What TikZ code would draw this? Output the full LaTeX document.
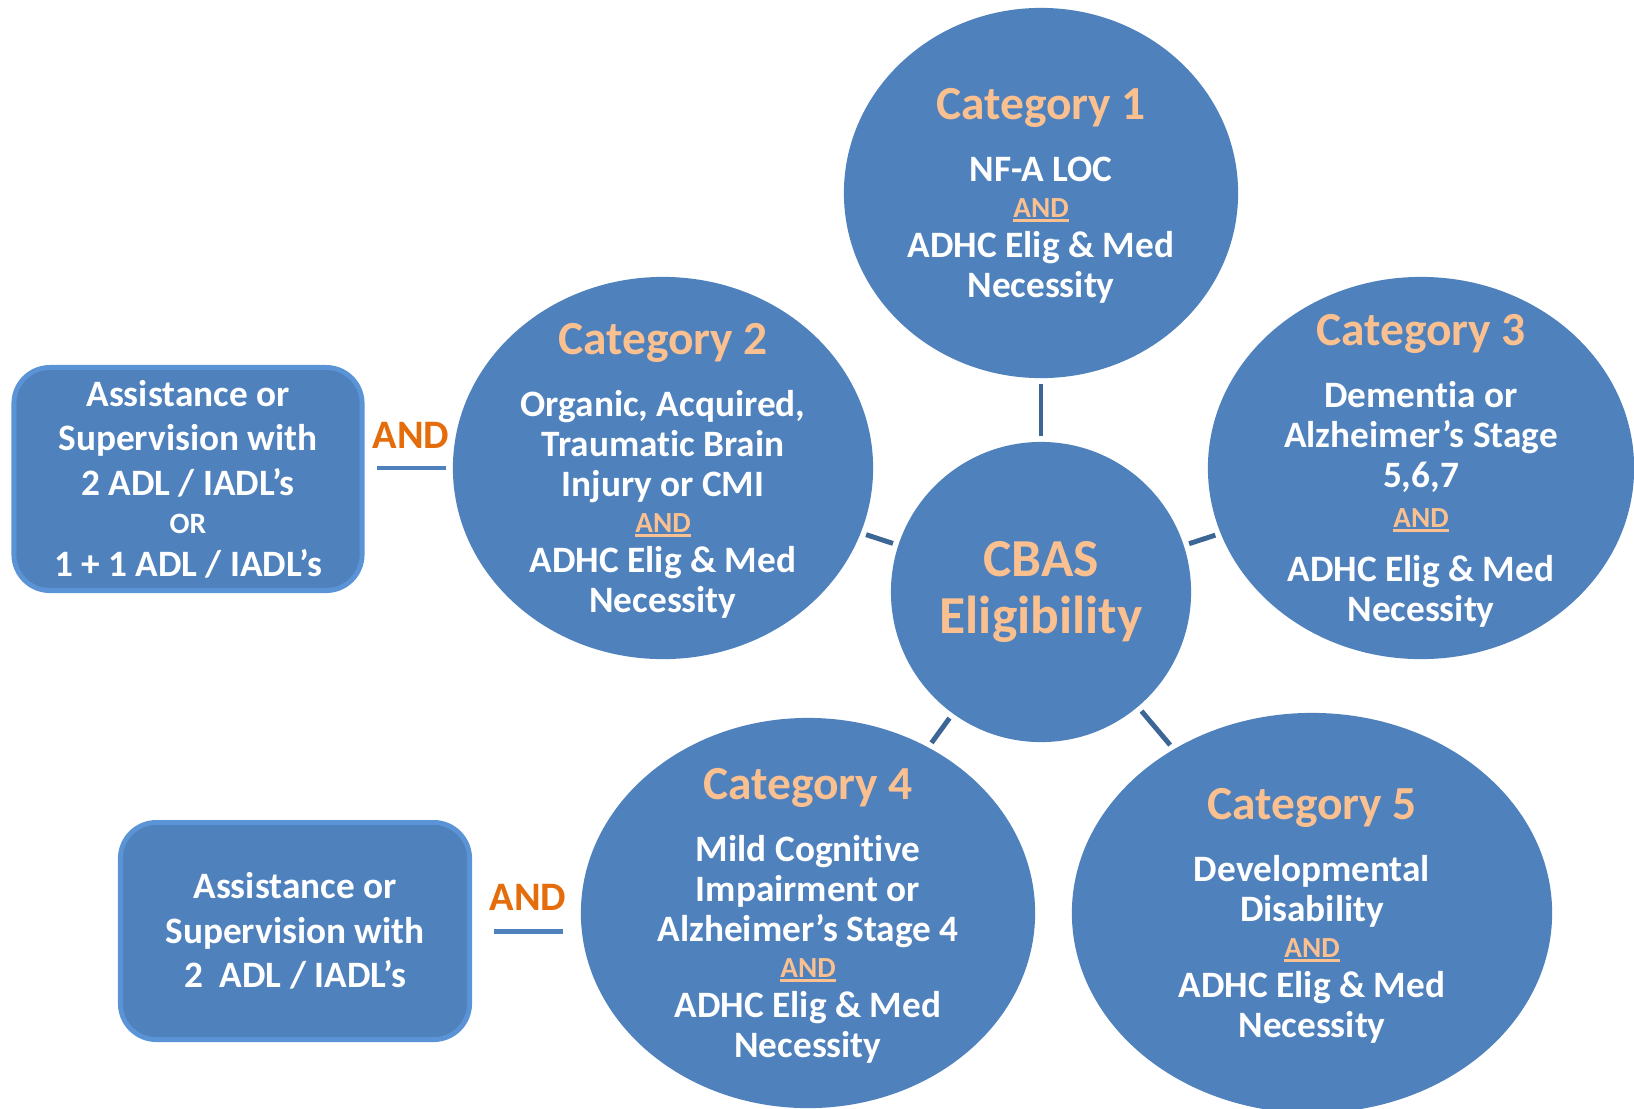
\documentclass[tikz,border=0pt]{standalone}
\usepackage{fontspec}
\setmainfont{Carlito}[Ligatures={TeX,CommonOff}]
\usepackage{tikz}
\usepackage{xcolor}
\usetikzlibrary{shapes.geometric}

\definecolor{blobblue}{HTML}{4F81BD}
\definecolor{rimblue}{HTML}{5B93D7}
\definecolor{linkblue}{HTML}{3C6695}
\definecolor{peach}{HTML}{FAC090}
\definecolor{andorange}{HTML}{E46C0A}

\newcommand{\cattitle}[1]{{\color{peach}\fontsize{13.5}{15}\selectfont #1}}
\newcommand{\andsmall}[1]{{\color{peach}\fontsize{8.3}{9}\selectfont\setbox0\hbox{#1}\rlap{\rule[-1.3pt]{\wd0}{0.85pt}}\box0}}

\begin{document}
\begin{tikzpicture}[x=0.01cm, y=-0.01cm,
        blob/.style={ellipse, fill=blobblue, inner sep=0pt},
        blobtext/.style={align=center, text=white, yshift=-0.03cm, font=\bfseries\fontsize{10.6}{11.4}\selectfont},
        reqbox/.style={rectangle, rounded corners=0.36cm, fill=blobblue, draw=rimblue, line width=1.4pt,
            align=center, text=white, font=\bfseries\fontsize{10.6}{12.7}\selectfont},
        link/.style={draw=linkblue, line width=1.4pt, shorten <=0.05cm, shorten >=0.05cm},
        andlabel/.style={text=andorange, font=\bfseries\fontsize{11.5}{13}\selectfont, inner sep=0pt},
        andbar/.style={draw=blobblue, line width=1.4pt, shorten <=0.05cm, shorten >=0.04cm}]
                \useasboundingbox (0,0) rectangle (1634,1108);
                \node[blob, minimum width=3.94cm, minimum height=3.70cm] (cat1) at (1041,193) {};
                \node[blob, minimum size=3cm] (cbas) at (1041,592) {};
                \node[blob, minimum width=4.20cm, minimum height=3.82cm] (cat2) at (663,468) {};
                \node[blob, minimum width=4.26cm, minimum height=3.82cm] (cat3) at (1421,468) {};
                \node[blob, minimum width=4.54cm, minimum height=3.90cm] (cat4) at (808,913) {};
                \node[blob, minimum width=4.80cm, minimum height=4.00cm] (cat5) at (1312,913) {};
                \draw[link] (cat1) -- (cbas);
                \draw[link] (cat2) -- (cbas);
                \draw[link] (cat3) -- (cbas);
                \draw[link] (cat4) -- (cbas);
                \draw[link] (cat5) -- (cbas);
                \node[blobtext] (cat1text) at (cat1) {\cattitle{Category 1}\\[6.2pt] NF-A LOC\\[-1.2pt] \andsmall{AND}\\ ADHC Elig \& Med\\ Necessity};
                \node[blobtext] (cat2text) at (cat2) {\cattitle{Category 2}\\[6.2pt] Organic, Acquired,\\ Traumatic Brain\\ Injury or CMI\\[-1.2pt] \andsmall{AND}\\ ADHC Elig \& Med\\ Necessity};
                \node[blobtext] (cat3text) at (cat3) {\cattitle{Category 3}\\[6.2pt] Dementia or\\ Alzheimer’s Stage\\ 5,6,7\\ \andsmall{AND}\\[4pt] ADHC Elig \& Med\\ Necessity};
                \node[blobtext] (cat4text) at (cat4) {\cattitle{Category 4}\\[6.2pt] Mild Cognitive\\ Impairment or\\ Alzheimer’s Stage 4\\[-1.2pt] \andsmall{AND}\\ ADHC Elig \& Med\\ Necessity};
                \node[blobtext] (cat5text) at (cat5) {\cattitle{Category 5}\\[6.2pt] Developmental\\ Disability\\[-1.2pt] \andsmall{AND}\\ ADHC Elig \& Med\\ Necessity};
                \node[align=center, text=peach, font=\bfseries\fontsize{15.2}{16}\selectfont] (cbastext) at (cbas) {CBAS\\ Eligibility};
                \node[reqbox, minimum width=3.48cm, minimum height=2.23cm] (adl1) at (188,479) {Assistance or\\ Supervision with\\ 2 ADL / IADL’s\\[-1.8pt] {\fontsize{8.4}{9}\selectfont OR}\\[-0.7pt] 1 + 1 ADL / IADL’s};
                \node[reqbox, minimum width=3.49cm, minimum height=2.17cm] (adl2) at (295,931) {Assistance or\\ Supervision with\\ 2\ \ ADL / IADL’s};
                \node[andlabel, anchor=base] (and1) at (411,448) {AND};
                \draw[andbar] ([yshift=-0.2cm]and1.base west) -- ([yshift=-0.2cm]and1.base east);
                \node[andlabel, anchor=base] (and2) at (528,910) {AND};
                \draw[andbar] ([yshift=-0.21cm]and2.base west) -- ([yshift=-0.21cm]and2.base east);
            \end{tikzpicture}
\end{document}
